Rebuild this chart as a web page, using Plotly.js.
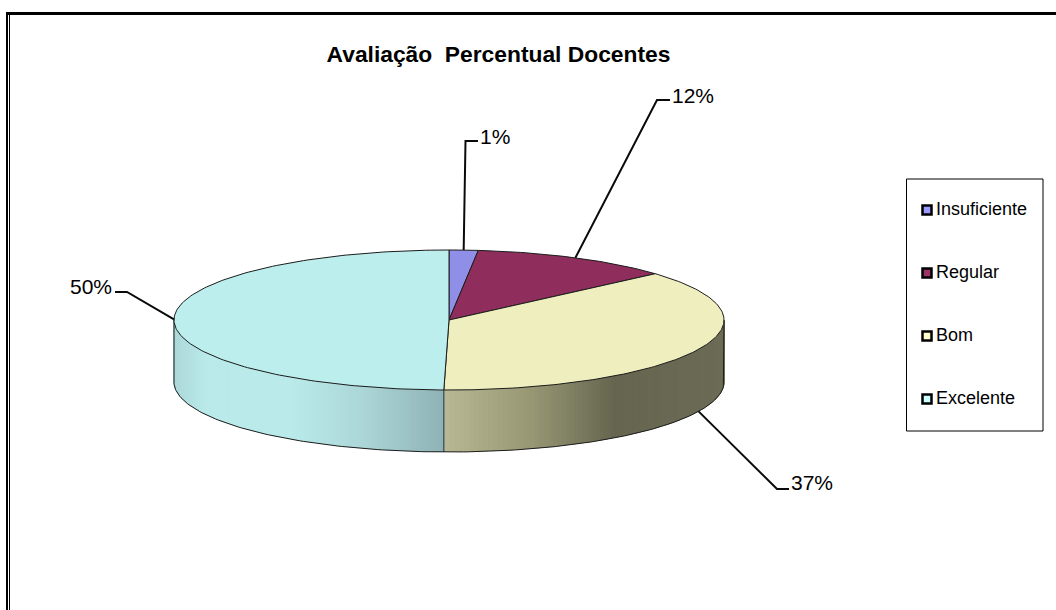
<!DOCTYPE html>
<html>
<head>
<meta charset="utf-8">
<script src="https://cdn.plot.ly/plotly-3.0.1.min.js"></script>
<style>html,body{margin:0;padding:0;background:#fff}#c{width:1056px;height:610px}</style>
</head>
<body>
<div id="c"></div>
<script>
// Data
const categories = ['Insuficiente', 'Regular', 'Bom', 'Excelente'];
const values = [1.7, 11.8, 36.8, 49.7];
const percentLabels = ['1%', '12%', '37%', '50%'];
const chartTitle = 'Avaliação\u00A0\u00A0Percentual Docentes';

// Styles
const topColors = ['#8F8FE8', '#8F2E5C', '#EEEEBE', '#BCEEEE'];
const legendColors = ['#9999FF', '#993366', '#FFFFCC', '#CCFFFF'];
const wallStops = [
  [[0, '#8F8FE8']],
  [[0, '#8F2E5C']],
  [[444, [184, 184, 148]], [533, [150, 150, 115]], [613, [102, 102, 80]], [724, [108, 108, 86]]],
  [[174, [172, 216, 216]], [205, [186, 234, 234]], [290, [186, 234, 234]], [360, [172, 215, 216]], [443, [143, 178, 181]]]
];
const cx = 449, cy = 320, rx = 275, ry = 70, depth = 62;
// label text anchor, elbow and leader-end positions (page layout)
const leaderElbow = [[465.5, 141], [657, 100], [777, 489], [127, 292]];
const leaderEnd = [[478, 141], [670, 100], [789, 489], [115, 292]];
const labelSide = ['left', 'left', 'left', 'right'];
const labelLift = [5, 5, 7, 6];
const legendBox = {x0: 906.5, x1: 1043, y0: 179, y1: 431};
const legendY = [210, 273, 336, 399];

// Geometry from values
const total = values.reduce((a, b) => a + b, 0);
let acc = 0;
const spans = values.map(v => { const s = acc / total * 360; acc += v; return [s, acc / total * 360]; });
const px = t => cx + rx * Math.sin(t * Math.PI / 180);
const py = t => cy - ry * Math.cos(t * Math.PI / 180);
function range(a, b, step) {
  const out = [];
  for (let t = a; t < b; t += step) out.push(t);
  out.push(b);
  return out;
}
function colorAt(stops, x) {
  if (typeof stops[0][1] === 'string') return stops[0][1];
  let c = stops[stops.length - 1][1];
  if (x <= stops[0][0]) c = stops[0][1];
  else for (let i = 0; i < stops.length - 1; i++) {
    if (x >= stops[i][0] && x <= stops[i + 1][0]) {
      const f = (x - stops[i][0]) / (stops[i + 1][0] - stops[i][0]);
      c = stops[i][1].map((v, k) => v + (stops[i + 1][1][k] - v) * f);
      break;
    }
  }
  return 'rgb(' + c.map(Math.round).join(',') + ')';
}

const traces = [];
const base = {type: 'scatter', mode: 'lines', hoverinfo: 'skip', showlegend: false};
const edge = {color: '#1c1c1c', width: 1};

// Side wall, visible half only (90..270 degrees)
spans.forEach((s, i) => {
  const a = Math.max(s[0], 90), b = Math.min(s[1], 270);
  if (b <= a) return;
  const ts = range(a, b, 1);
  for (let k = 0; k < ts.length - 1; k++) {
    const t0 = ts[k], t1 = ts[k + 1];
    const col = colorAt(wallStops[i], (px(t0) + px(t1)) / 2);
    const d = depth - 0.75;
    traces.push(Object.assign({}, base, {
      x: [px(t0), px(t1), px(t1), px(t0), px(t0)],
      y: [py(t0), py(t1), py(t1) + d, py(t0) + d, py(t0)],
      fill: 'toself', fillcolor: col, line: {color: col, width: 1.5}
    }));
  }
});
// wall dividers at slice boundaries
spans.forEach(s => {
  if (s[1] > 90 && s[1] < 270) {
    traces.push(Object.assign({}, base, {
      x: [px(s[1]), px(s[1])], y: [py(s[1]), py(s[1]) + depth], line: {color: '#24383a', width: 1}
    }));
  }
});
// Wall outline
const wallArc = range(90, 270, 1);
traces.push(Object.assign({}, base, {
  x: [px(90)].concat(wallArc.map(px), [px(270)]),
  y: [py(90)].concat(wallArc.map(t => py(t) + depth), [py(270)]),
  line: edge
}));

// Top slices
spans.forEach((s, i) => {
  const ts = range(s[0], s[1], 1);
  traces.push(Object.assign({}, base, {
    x: [cx].concat(ts.map(px), [cx]),
    y: [cy].concat(ts.map(py), [cy]),
    fill: 'toself', fillcolor: topColors[i], line: edge, name: categories[i]
  }));
});

// Leader lines
const annotations = [];
spans.forEach((s, i) => {
  const mid = (s[0] + s[1]) / 2;
  const onWall = mid > 90 && mid < 270;
  traces.push(Object.assign({}, base, {
    x: [px(mid), leaderElbow[i][0], leaderEnd[i][0]],
    y: [py(mid) + (onWall ? depth : 0), leaderElbow[i][1], leaderEnd[i][1]],
    line: {color: '#0a0a0a', width: 2}
  }));
  annotations.push({
    x: leaderEnd[i][0] + (labelSide[i] === 'left' ? 0 : -1), y: leaderEnd[i][1] - labelLift[i],
    xref: 'x', yref: 'y', text: percentLabels[i], showarrow: false,
    xanchor: labelSide[i], yanchor: 'middle',
    font: {family: 'Liberation Sans, Arial, sans-serif', size: 21, color: '#000'}
  });
});

// Legend
const legX = legendY.map(() => 927);
traces.push(Object.assign({}, base, {
  mode: 'markers', x: legX, y: legendY,
  marker: {symbol: 'square', size: 9, color: legendColors, line: {color: '#000', width: 2.5}}
}));
categories.forEach((c, i) => annotations.push({
  x: 933.5, y: legendY[i] - 1, xref: 'x', yref: 'y', text: c, showarrow: false, xanchor: 'left', yanchor: 'middle',
  font: {family: 'Liberation Sans, Arial, sans-serif', size: 18, color: '#000'}
}));

const shapes = [
  {type: 'rect', xref: 'x', yref: 'y', x0: legendBox.x0, x1: legendBox.x1, y0: legendBox.y0, y1: legendBox.y1,
   line: {color: '#000', width: 1}, fillcolor: '#fff', layer: 'below'},
  {type: 'line', xref: 'x', yref: 'y', x0: 6, x1: 1056, y0: 13.5, y1: 13.5, line: {color: '#000', width: 3}},
  {type: 'line', xref: 'x', yref: 'y', x0: 7, x1: 7, y0: 12, y1: 610, line: {color: '#000', width: 2}},
  {type: 'line', xref: 'x', yref: 'y', x0: 9.5, x1: 9.5, y0: 12, y1: 610, line: {color: '#000', width: 1}}
];

const hidden = {visible: false, fixedrange: true, showgrid: false, zeroline: false};
Plotly.newPlot('c', traces, {
  width: 1056, height: 610, autosize: false,
  margin: {l: 0, r: 0, t: 0, b: 0},
  paper_bgcolor: '#fff', plot_bgcolor: '#fff',
  showlegend: false,
  title: {text: chartTitle, x: 498.5 / 1056, xanchor: 'center', y: 1 - 54 / 610, yanchor: 'middle',
          font: {family: 'Liberation Sans, Arial, sans-serif', size: 22.8, weight: 700, color: '#000'}},
  xaxis: Object.assign({range: [0, 1056]}, hidden),
  yaxis: Object.assign({range: [610, 0]}, hidden),
  shapes, annotations
}, {displayModeBar: false, staticPlot: true});
</script>
</body>
</html>
